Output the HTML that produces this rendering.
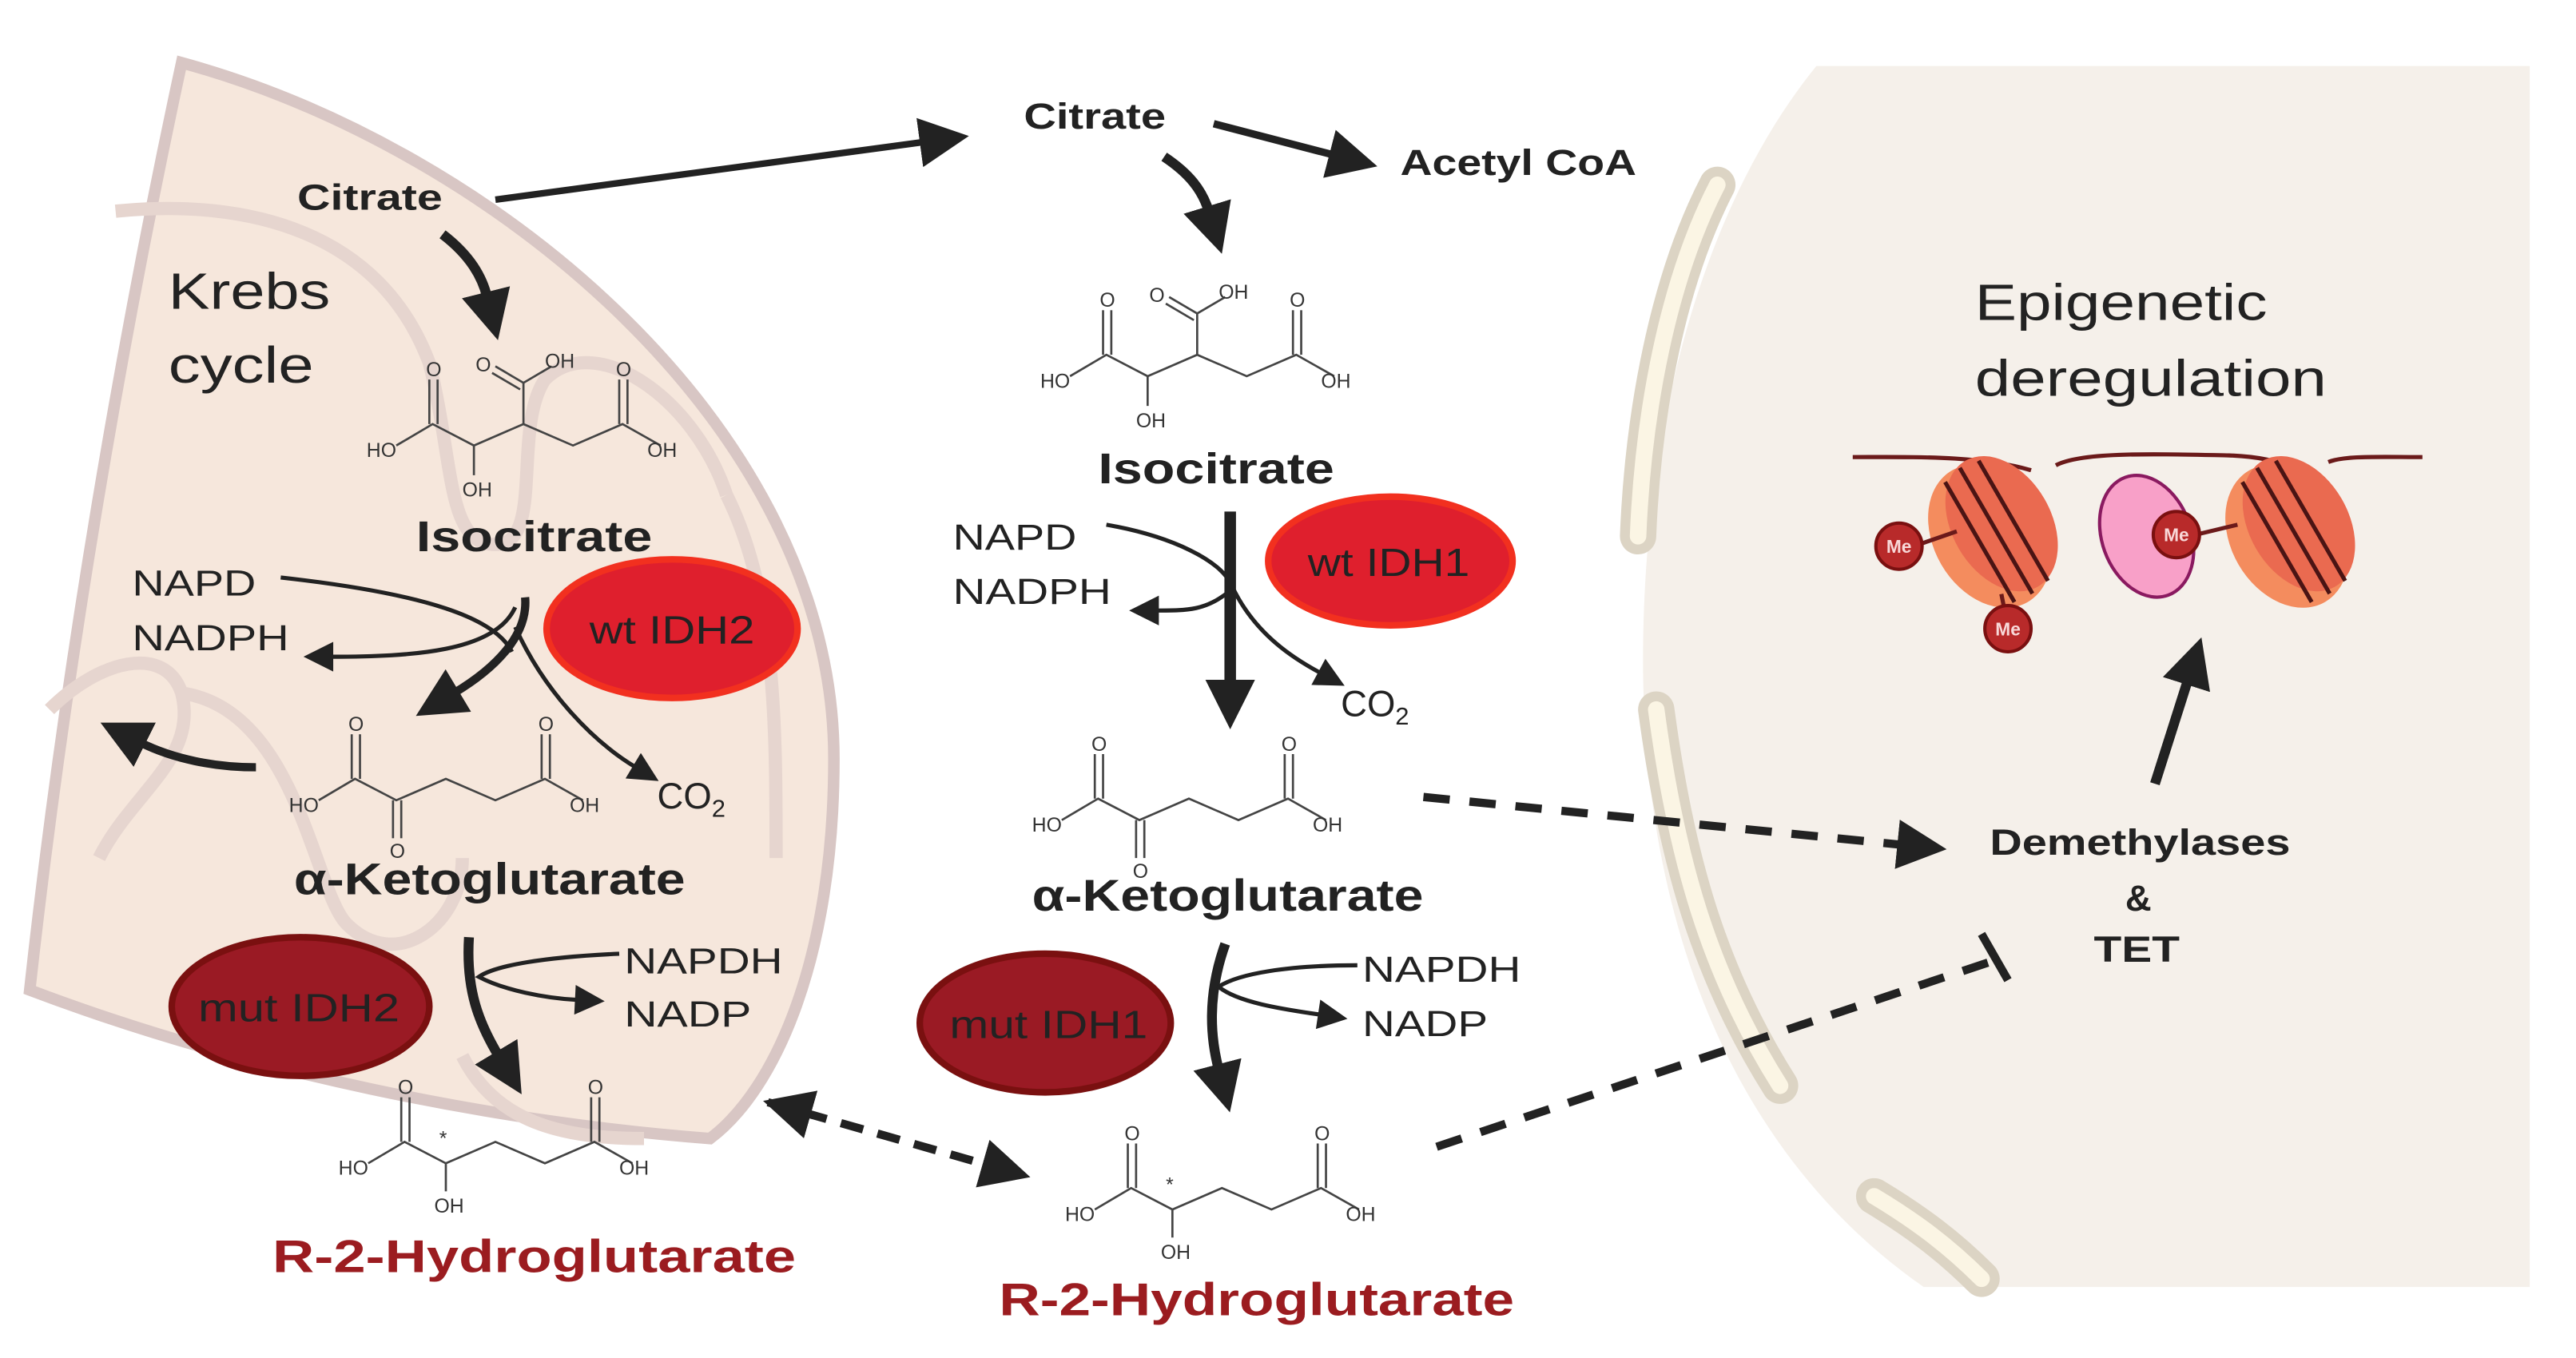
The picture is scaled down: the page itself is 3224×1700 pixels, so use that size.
<!DOCTYPE html>
<html><head><meta charset="utf-8"><style>
html,body{margin:0;padding:0;background:#fff;}
svg{display:block;}
text{font-family:"Liberation Sans",sans-serif;}
.b{font-weight:bold;fill:#222;}
.r{fill:#222;}
.ch line,.ch polyline{stroke:#444;stroke-width:1.3;fill:none;}
.ch text{font-size:12px;fill:#333;}
</style></head><body>
<svg width="3224" height="1700" viewBox="0 0 1560 823" preserveAspectRatio="none" xmlns="http://www.w3.org/2000/svg">
<defs>
<marker id="A" viewBox="0 0 10 10" refX="1" refY="5" markerWidth="30" markerHeight="30" markerUnits="userSpaceOnUse" orient="auto"><path d="M0,0 L10,5 L0,10z" fill="#222"/></marker>
<marker id="S" viewBox="0 0 10 10" refX="1" refY="5" markerWidth="20" markerHeight="18" markerUnits="userSpaceOnUse" orient="auto"><path d="M0,0 L10,5 L0,10z" fill="#222"/></marker>
<marker id="As" viewBox="0 0 10 10" refX="9" refY="5" markerWidth="30" markerHeight="30" markerUnits="userSpaceOnUse" orient="auto-start-reverse"><path d="M0,0 L10,5 L0,10z" fill="#222"/></marker>
<g id="iso" class="ch">
<polyline points="18,60 40,47 65,60 95,47 125,60 155,47 178,60"/>
<line x1="38" y1="47" x2="38" y2="20"/><line x1="43" y1="47" x2="43" y2="20"/>
<line x1="153" y1="47" x2="153" y2="20"/><line x1="158" y1="47" x2="158" y2="20"/>
<line x1="65" y1="60" x2="65" y2="78"/>
<line x1="95" y1="47" x2="95" y2="22"/><line x1="95" y1="22" x2="78" y2="12"/><line x1="93" y1="26" x2="76" y2="16"/><line x1="95" y1="22" x2="112" y2="12"/>
<text x="36" y="18">O</text><text x="151" y="18">O</text><text x="0" y="67">HO</text><text x="170" y="67">OH</text><text x="58" y="91">OH</text><text x="66" y="15">O</text><text x="108" y="13">OH</text>
</g>
<g id="akg" class="ch">
<polyline points="18,55 40,42 65,55 95,42 125,55 155,42 178,55"/>
<line x1="38" y1="42" x2="38" y2="15"/><line x1="43" y1="42" x2="43" y2="15"/>
<line x1="153" y1="42" x2="153" y2="15"/><line x1="158" y1="42" x2="158" y2="15"/>
<line x1="63" y1="55" x2="63" y2="78"/><line x1="68" y1="55" x2="68" y2="78"/>
<text x="36" y="13">O</text><text x="151" y="13">O</text><text x="0" y="62">HO</text><text x="170" y="62">OH</text><text x="61" y="90">O</text>
</g>
<g id="hg" class="ch">
<polyline points="18,55 40,42 65,55 95,42 125,55 155,42 178,55"/>
<line x1="38" y1="42" x2="38" y2="15"/><line x1="43" y1="42" x2="43" y2="15"/>
<line x1="153" y1="42" x2="153" y2="15"/><line x1="158" y1="42" x2="158" y2="15"/>
<line x1="65" y1="55" x2="65" y2="72"/>
<text x="36" y="13">O</text><text x="151" y="13">O</text><text x="0" y="62">HO</text><text x="170" y="62">OH</text><text x="58" y="85">OH</text><text x="61" y="44">*</text>
</g>
</defs>

<!-- nucleus -->
<path d="M1100,40 L1532,40 L1532,780 L1165,780 C1050,700 995,560 995,400 C995,250 1035,120 1100,40Z" fill="#f5f0ea"/>
<g fill="none" stroke-linecap="round">
<path d="M1040,112 C1010,170 995,250 992,325" stroke="#dcd4c4" stroke-width="22"/>
<path d="M1040,112 C1010,170 995,250 992,325" stroke="#fbf5e4" stroke-width="10"/>
<path d="M1003,430 C1015,520 1035,590 1078,658" stroke="#dcd4c4" stroke-width="22"/>
<path d="M1003,430 C1015,520 1035,590 1078,658" stroke="#fbf5e4" stroke-width="10"/>
<path d="M1135,725 C1160,740 1180,755 1200,775" stroke="#dcd4c4" stroke-width="22"/>
<path d="M1135,725 C1160,740 1180,755 1200,775" stroke="#fbf5e4" stroke-width="10"/>
</g>

<!-- mitochondrion -->
<path d="M110,38 C300,90 505,260 505,460 C505,580 470,660 430,690 C300,680 150,650 18,600 C40,400 75,200 110,38Z" fill="#f6e7dc" stroke="#d8c6c4" stroke-width="7"/>
<g fill="none" stroke="#e6d5cf" stroke-width="8">
<path d="M70,128 C150,120 230,140 260,220 C275,280 270,330 300,330 C330,330 310,260 330,230 C360,200 420,240 440,300"/>
<path d="M30,430 C60,400 100,390 110,420 C120,460 80,480 60,520"/>
<path d="M110,420 C180,430 190,540 210,560 C240,590 280,560 280,520"/>
<path d="M440,300 C470,360 470,440 470,520"/>
<path d="M280,640 C300,680 340,690 390,690"/>
</g>

<!-- left texts -->
<text x="180" y="127" class="b" font-size="22" textLength="88" lengthAdjust="spacingAndGlyphs">Citrate</text>
<text x="102" y="187" class="r" font-size="31" textLength="98" lengthAdjust="spacingAndGlyphs">Krebs</text>
<text x="102" y="232" class="r" font-size="31" textLength="88" lengthAdjust="spacingAndGlyphs">cycle</text>
<use href="#iso" x="222" y="210"/>
<text x="252" y="334" class="b" font-size="26" textLength="143" lengthAdjust="spacingAndGlyphs">Isocitrate</text>
<text x="80" y="361" class="r" font-size="22" textLength="75" lengthAdjust="spacingAndGlyphs">NAPD</text>
<text x="80" y="394" class="r" font-size="22" textLength="95" lengthAdjust="spacingAndGlyphs">NADPH</text>
<ellipse cx="407" cy="381" rx="76" ry="42" fill="#df1f2d" stroke="#f2301f" stroke-width="4"/>
<text x="357" y="390" class="r" font-size="24" textLength="100" lengthAdjust="spacingAndGlyphs">wt IDH2</text>
<use href="#akg" x="175" y="430"/>
<text x="398" y="490" class="r" font-size="22">CO<tspan font-size="15" dy="5">2</tspan></text>
<text x="178" y="542" class="b" font-size="27" textLength="237" lengthAdjust="spacingAndGlyphs">α-Ketoglutarate</text>
<ellipse cx="182" cy="610" rx="78" ry="42" fill="#9a1a24" stroke="#7a1010" stroke-width="4"/>
<text x="120" y="619" class="r" font-size="24" textLength="122" lengthAdjust="spacingAndGlyphs">mut IDH2</text>
<text x="378" y="590" class="r" font-size="22" textLength="96" lengthAdjust="spacingAndGlyphs">NAPDH</text>
<text x="378" y="622" class="r" font-size="22" textLength="77" lengthAdjust="spacingAndGlyphs">NADP</text>
<use href="#hg" x="205" y="650"/>
<text x="165" y="771" font-size="28" font-weight="bold" fill="#9b1c20" textLength="317" lengthAdjust="spacingAndGlyphs">R-2-Hydroglutarate</text>

<!-- left arrows -->
<path d="M268,142 C285,155 292,168 295,180" stroke="#222" stroke-width="6" fill="none" marker-end="url(#A)"/>
<path d="M170,350 C260,360 300,375 310,395" stroke="#222" stroke-width="2.5" fill="none"/>
<path d="M312,368 C300,395 250,398 200,398" stroke="#222" stroke-width="2.5" fill="none" marker-end="url(#S)"/>
<path d="M318,362 C320,385 300,405 275,420" stroke="#222" stroke-width="5" fill="none" marker-end="url(#A)"/>
<path d="M312,380 C330,420 360,450 385,465" stroke="#222" stroke-width="2.5" fill="none" marker-end="url(#S)"/>
<path d="M155,465 C130,465 105,460 85,450" stroke="#222" stroke-width="5" fill="none" marker-end="url(#A)"/>
<path d="M284,568 C282,600 290,620 302,640" stroke="#222" stroke-width="6" fill="none" marker-end="url(#A)"/>
<path d="M375,578 C330,580 300,585 290,592 C305,600 330,605 350,606" stroke="#222" stroke-width="2.5" fill="none" marker-end="url(#S)"/>

<!-- middle -->
<path d="M300,121 L560,86" stroke="#222" stroke-width="4" fill="none" marker-end="url(#A)"/>
<text x="620" y="78" class="b" font-size="22" textLength="86" lengthAdjust="spacingAndGlyphs">Citrate</text>
<path d="M735,75 L808,94" stroke="#222" stroke-width="4.5" fill="none" marker-end="url(#A)"/>
<text x="848" y="106" class="b" font-size="22" textLength="143" lengthAdjust="spacingAndGlyphs">Acetyl CoA</text>
<path d="M705,95 C720,105 728,115 732,128" stroke="#222" stroke-width="6" fill="none" marker-end="url(#A)"/>
<use href="#iso" x="630" y="168"/>
<text x="665" y="293" class="b" font-size="26" textLength="143" lengthAdjust="spacingAndGlyphs">Isocitrate</text>
<text x="577" y="333" class="r" font-size="22" textLength="75" lengthAdjust="spacingAndGlyphs">NAPD</text>
<text x="577" y="366" class="r" font-size="22" textLength="96" lengthAdjust="spacingAndGlyphs">NADPH</text>
<ellipse cx="842" cy="340" rx="74" ry="39" fill="#df1f2d" stroke="#f2301f" stroke-width="4"/>
<text x="792" y="349" class="r" font-size="24" textLength="98" lengthAdjust="spacingAndGlyphs">wt IDH1</text>
<line x1="745" y1="310" x2="745" y2="415" stroke="#222" stroke-width="7" marker-end="url(#A)"/>
<path d="M670,318 C710,325 740,340 746,355 C760,385 785,400 800,408" stroke="#222" stroke-width="2.5" fill="none" marker-end="url(#S)"/>
<path d="M745,358 C730,370 720,370 700,370" stroke="#222" stroke-width="2.5" fill="none" marker-end="url(#S)"/>
<text x="812" y="434" class="r" font-size="22">CO<tspan font-size="15" dy="5">2</tspan></text>
<use href="#akg" x="625" y="442"/>
<text x="625" y="552" class="b" font-size="27" textLength="237" lengthAdjust="spacingAndGlyphs">α-Ketoglutarate</text>
<ellipse cx="633" cy="620" rx="76" ry="42" fill="#9a1a24" stroke="#7a1010" stroke-width="4"/>
<text x="575" y="629" class="r" font-size="24" textLength="120" lengthAdjust="spacingAndGlyphs">mut IDH1</text>
<text x="825" y="595" class="r" font-size="22" textLength="96" lengthAdjust="spacingAndGlyphs">NAPDH</text>
<text x="825" y="628" class="r" font-size="22" textLength="76" lengthAdjust="spacingAndGlyphs">NADP</text>
<path d="M742,572 C732,600 732,625 738,648" stroke="#222" stroke-width="6" fill="none" marker-end="url(#A)"/>
<path d="M822,585 C780,585 750,590 738,598 C750,608 780,612 800,615" stroke="#222" stroke-width="2.5" fill="none" marker-end="url(#S)"/>
<use href="#hg" x="645" y="678"/>
<text x="605" y="797" font-size="28" font-weight="bold" fill="#9b1c20" textLength="312" lengthAdjust="spacingAndGlyphs">R-2-Hydroglutarate</text>

<!-- dashed -->
<line x1="465" y1="668" x2="598" y2="706" stroke="#222" stroke-width="5" stroke-dasharray="14,9" marker-start="url(#As)" marker-end="url(#A)"/>
<line x1="862" y1="483" x2="1152" y2="512" stroke="#222" stroke-width="5" stroke-dasharray="16,12" marker-end="url(#A)"/>
<line x1="870" y1="695" x2="1208" y2="582" stroke="#222" stroke-width="5" stroke-dasharray="16,12"/>
<line x1="1200" y1="566" x2="1216" y2="594" stroke="#222" stroke-width="5"/>

<!-- right -->
<text x="1196" y="194" class="r" font-size="31" textLength="177" lengthAdjust="spacingAndGlyphs">Epigenetic</text>
<text x="1196" y="240" class="r" font-size="31" textLength="213" lengthAdjust="spacingAndGlyphs">deregulation</text>
<path d="M1122,277 C1160,277 1200,276 1230,285 M1245,282 C1260,274 1300,275 1350,276 C1380,277 1390,285 1400,285 M1410,280 C1420,276 1440,277 1467,277" stroke="#6b1a1a" stroke-width="2.5" fill="none"/>
<g transform="rotate(-30 1205 325)"><ellipse cx="1205" cy="325" rx="34" ry="46" fill="#f48c5e"/><ellipse cx="1215" cy="322" rx="30" ry="44" fill="#ea6a50"/>
<path d="M1198,283 L1198,367 M1210,280 L1210,368 M1222,282 L1222,366" stroke="#4a1414" stroke-width="2.5"/></g>
<g transform="rotate(-30 1385 325)"><ellipse cx="1385" cy="325" rx="34" ry="46" fill="#f48c5e"/><ellipse cx="1395" cy="322" rx="30" ry="44" fill="#ea6a50"/>
<path d="M1378,283 L1378,367 M1390,280 L1390,368 M1402,282 L1402,366" stroke="#4a1414" stroke-width="2.5"/></g>
<ellipse cx="1300" cy="325" rx="27" ry="38" transform="rotate(-20 1300 325)" fill="#f8a0c8" stroke="#8a1a60" stroke-width="2"/>
<line x1="1162" y1="330" x2="1185" y2="322" stroke="#6b1a1a" stroke-width="2.5"/>
<line x1="1212" y1="360" x2="1215" y2="375" stroke="#6b1a1a" stroke-width="2.5"/>
<line x1="1330" y1="324" x2="1355" y2="318" stroke="#6b1a1a" stroke-width="2.5"/>
<g font-size="11" font-weight="bold" fill="#f8d8d8" text-anchor="middle">
<circle cx="1150" cy="331" r="14" fill="#b82a2a" stroke="#7a1010" stroke-width="2"/><text x="1150" y="335">Me</text>
<circle cx="1216" cy="381" r="14" fill="#b82a2a" stroke="#7a1010" stroke-width="2"/><text x="1216" y="385">Me</text>
<circle cx="1318" cy="324" r="14" fill="#b82a2a" stroke="#7a1010" stroke-width="2"/><text x="1318" y="328">Me</text>
</g>
<line x1="1305" y1="475" x2="1325" y2="412" stroke="#222" stroke-width="6" marker-end="url(#A)"/>
<text x="1205" y="518" class="b" font-size="22" textLength="182" lengthAdjust="spacingAndGlyphs">Demethylases</text>
<text x="1295" y="552" class="b" font-size="22" text-anchor="middle">&amp;</text>
<text x="1268" y="583" class="b" font-size="22" textLength="52" lengthAdjust="spacingAndGlyphs">TET</text>
</svg>
</body></html>
